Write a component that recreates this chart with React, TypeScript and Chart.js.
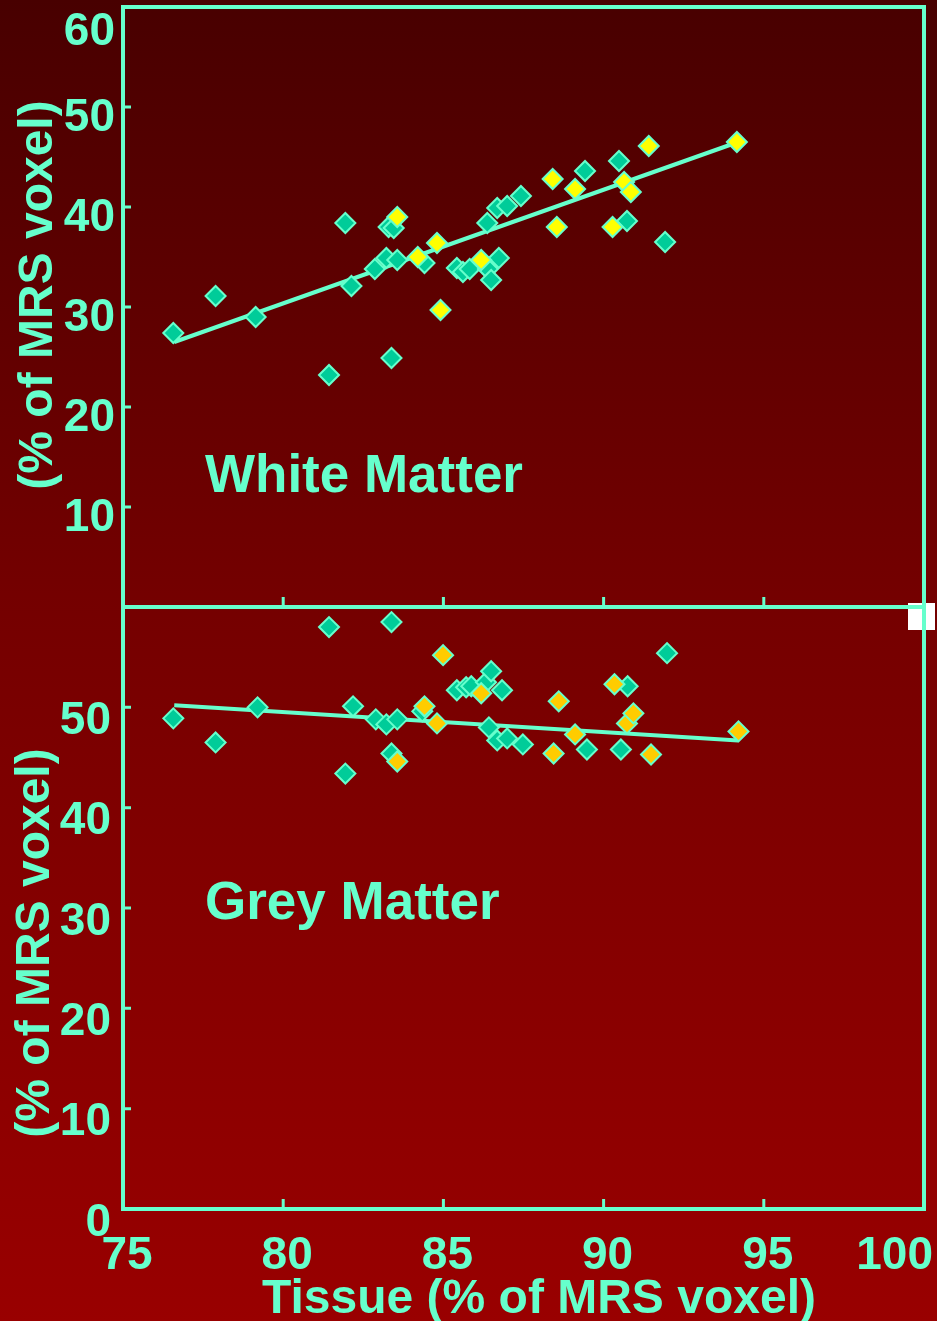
import React, { useEffect, useRef } from "react";
import { Chart, registerables } from "chart.js";

Chart.register(...registerables);

const W = 937;
const H = 1321;

// ---- tick values ----
const xTicks = [75, 80, 85, 90, 95, 100];
const yTicksTop = [10, 20, 30, 40, 50, 60];
const yTicksBottom = [0, 10, 20, 30, 40, 50];

// ---- White matter panel ----
const wmGreenX = [76.57, 77.89, 79.14, 81.94, 81.43, 82.13, 82.86, 83.22, 83.56, 83.29, 83.45, 83.38, 84.41, 85.42, 85.61, 85.82, 86.73, 86.39, 86.49, 86.37, 86.68, 86.99, 87.42, 89.42, 90.48, 90.73, 91.92];
const wmGreenY = [27.4, 31.1, 29.0, 38.4, 23.2, 32.1, 33.8, 34.9, 34.7, 38.0, 37.9, 24.9, 34.4, 33.9, 33.5, 33.8, 34.9, 33.8, 32.7, 38.4, 39.9, 40.1, 41.1, 43.6, 44.6, 38.6, 36.5];
const wmYellowX = [83.56, 84.2, 84.8, 84.91, 86.18, 88.41, 88.54, 89.11, 90.28, 90.64, 90.85, 91.41, 94.16];
const wmYellowY = [39.0, 35.0, 36.4, 29.7, 34.7, 42.8, 38.0, 41.8, 38.0, 42.5, 41.5, 46.1, 46.5];
const wmFitX = [76.6, 94.2];
const wmFitY = [26.5, 46.5];

// ---- Grey matter panel ----
const gmGreenX = [76.57, 77.89, 79.2, 81.43, 81.94, 82.18, 82.89, 83.22, 83.56, 83.38, 83.38, 84.34, 85.42, 85.71, 85.87, 86.33, 86.49, 86.83, 86.42, 86.68, 86.99, 87.48, 89.48, 90.75, 90.54, 91.98];
const gmGreenY = [48.9, 46.5, 50.0, 58.0, 43.4, 50.1, 48.8, 48.3, 48.8, 58.5, 45.4, 49.6, 51.7, 52.0, 52.1, 52.5, 53.6, 51.7, 48.0, 46.7, 46.9, 46.3, 45.8, 52.1, 45.8, 55.4];
const gmOrangeX = [83.56, 84.41, 84.8, 84.99, 86.18, 88.44, 88.6, 89.11, 90.34, 90.73, 90.93, 91.48, 94.21];
const gmOrangeY = [44.6, 50.1, 48.4, 55.2, 51.4, 45.4, 50.6, 47.3, 52.3, 48.4, 49.4, 45.3, 47.6];
const gmFitX = [76.6, 94.2];
const gmFitY = [50.2, 46.7];

// ---- texts ----
const yTitle = "(% of MRS voxel)";
const xTitle = "Tissue (% of MRS voxel)";
const wmLabel = "White Matter";
const gmLabel = "Grey Matter";

const TEXT = "#66ffcc";
const GREEN = "#00cc99";
const YELLOW = "#ffff00";
const ORANGE = "#ffcc00";
const FONT = '"Liberation Sans", Arial, Helvetica, sans-serif';

const pts = (xs: number[], ys: number[]) => xs.map((x, i) => ({ x, y: ys[i] }));

const markerDs = (label: string, xs: number[], ys: number[], fill: string, order: number) => ({
  label,
  data: pts(xs, ys),
  pointStyle: "rectRot",
  pointRadius: 10,
  pointHoverRadius: 10,
  pointBackgroundColor: fill,
  pointBorderColor: TEXT,
  pointBorderWidth: 2,
  showLine: false,
  order,
});

const lineDs = (label: string, xs: number[], ys: number[]) => ({
  label,
  data: pts(xs, ys),
  showLine: true,
  borderColor: TEXT,
  borderWidth: 4,
  pointRadius: 0,
  fill: false,
  order: 2,
});

type PanelOpts = {
  top: boolean;
  yTicks: number[];
  panelLabel: string;
};

function makePlugin(p: PanelOpts) {
  return {
    id: "panelDecor",
    beforeDatasetsDraw(chart: any) {
      const { ctx, chartArea: a, scales } = chart;
      const x = scales.x;
      const y = scales.y;
      ctx.save();
      if (p.top) {
        ctx.fillStyle = "#ffffff";
        ctx.fillRect(a.right - 16, a.bottom - 4, 27, 27);
      }
      // frame
      ctx.strokeStyle = TEXT;
      ctx.lineWidth = 4;
      ctx.strokeRect(a.left, a.top, a.right - a.left, a.bottom - a.top);
      // ticks
      ctx.lineWidth = 3;
      ctx.beginPath();
      p.yTicks.forEach((v) => {
        if (v > y.min && v < y.max) {
          const py = y.getPixelForValue(v);
          ctx.moveTo(a.left, py);
          ctx.lineTo(a.left + 8, py);
        }
      });
      xTicks.forEach((v) => {
        if (v > x.min && v < x.max) {
          const px = x.getPixelForValue(v);
          ctx.moveTo(px, a.bottom);
          ctx.lineTo(px, a.bottom - 10);
        }
      });
      ctx.stroke();

      // y tick labels
      ctx.fillStyle = TEXT;
      ctx.font = `bold 46px ${FONT}`;
      ctx.textAlign = "right";
      ctx.textBaseline = "alphabetic";
      p.yTicks.forEach((v) => {
        const py = y.getPixelForValue(v);
        const cy = p.top ? Math.max(py + 7.5, a.top + 21.5) : py + 10;
        ctx.fillText(String(v), p.top ? 115 : 111, cy + 16.5);
      });

      // y title
      ctx.font = `bold 48px ${FONT}`;
      ctx.textAlign = "center";
      ctx.save();
      const cyTitle = p.top ? a.top + 288 : a.top + 336;
      ctx.translate(p.top ? 52 : 49, cyTitle);
      ctx.rotate(-Math.PI / 2);
      ctx.fillText(yTitle, 0, 0);
      ctx.restore();

      // panel label
      ctx.font = `bold 53px ${FONT}`;
      ctx.textAlign = "left";
      ctx.fillText(p.panelLabel, 205, p.top ? a.top + 485 : a.top + 312);

      if (!p.top) {
        // x tick labels
        ctx.font = `bold 46px ${FONT}`;
        ctx.textAlign = "center";
        xTicks.forEach((v) => {
          const px = x.getPixelForValue(v);
          const t = String(v);
          const w = ctx.measureText(t).width;
          const cx = Math.min(px + 4, W - 4 - w / 2);
          ctx.fillText(t, cx, a.bottom + 59.5);
        });
        // x title
        ctx.font = `bold 48px ${FONT}`;
        ctx.fillText(xTitle, 539, a.bottom + 104);
      }
      ctx.restore();
    },
  };
}

function buildConfig(datasets: any[], padding: any, yMin: number, yMax: number, p: PanelOpts) {
  return {
    type: "scatter" as const,
    data: { datasets },
    options: {
      responsive: false,
      maintainAspectRatio: false,
      animation: false as const,
      devicePixelRatio: 1,
      events: [],
      layout: { padding, autoPadding: false },
      plugins: {
        legend: { display: false },
        tooltip: { enabled: false },
        title: { display: false },
      },
      scales: {
        x: { type: "linear" as const, min: 75, max: 100, display: false },
        y: { type: "linear" as const, min: yMin, max: yMax, display: false },
      },
    },
    plugins: [makePlugin(p)],
  };
}

export default function App() {
  const topRef = useRef<HTMLCanvasElement | null>(null);
  const botRef = useRef<HTMLCanvasElement | null>(null);

  useEffect(() => {
    document.body.style.margin = "0";
    document.body.style.overflow = "hidden";
    const topChart = new Chart(
      topRef.current as HTMLCanvasElement,
      buildConfig(
        [
          markerDs("White matter (yellow)", wmYellowX, wmYellowY, YELLOW, 0),
          markerDs("White matter", wmGreenX, wmGreenY, GREEN, 1),
          lineDs("White matter fit", wmFitX, wmFitY),
        ],
        { left: 123, top: 7, right: 13, bottom: H - 607 },
        0,
        60,
        { top: true, yTicks: yTicksTop, panelLabel: wmLabel }
      ) as any
    );
    const botChart = new Chart(
      botRef.current as HTMLCanvasElement,
      buildConfig(
        [
          markerDs("Grey matter (orange)", gmOrangeX, gmOrangeY, ORANGE, 0),
          markerDs("Grey matter", gmGreenX, gmGreenY, GREEN, 1),
          lineDs("Grey matter fit", gmFitX, gmFitY),
        ],
        { left: 123, top: 607, right: 13, bottom: H - 1209 },
        0,
        60,
        { top: false, yTicks: yTicksBottom, panelLabel: gmLabel }
      ) as any
    );
    return () => {
      topChart.destroy();
      botChart.destroy();
    };
  }, []);

  const canvasStyle: React.CSSProperties = {
    position: "absolute",
    left: 0,
    top: 0,
    width: W,
    height: H,
  };

  return (
    <div
      style={{
        position: "relative",
        width: W,
        height: H,
        overflow: "hidden",
        background: "linear-gradient(to bottom, #480000 0%, #740000 45%, #990000 100%)",
      }}
    >
      <canvas ref={topRef} width={W} height={H} style={canvasStyle} />
      <canvas ref={botRef} width={W} height={H} style={canvasStyle} />
    </div>
  );
}
